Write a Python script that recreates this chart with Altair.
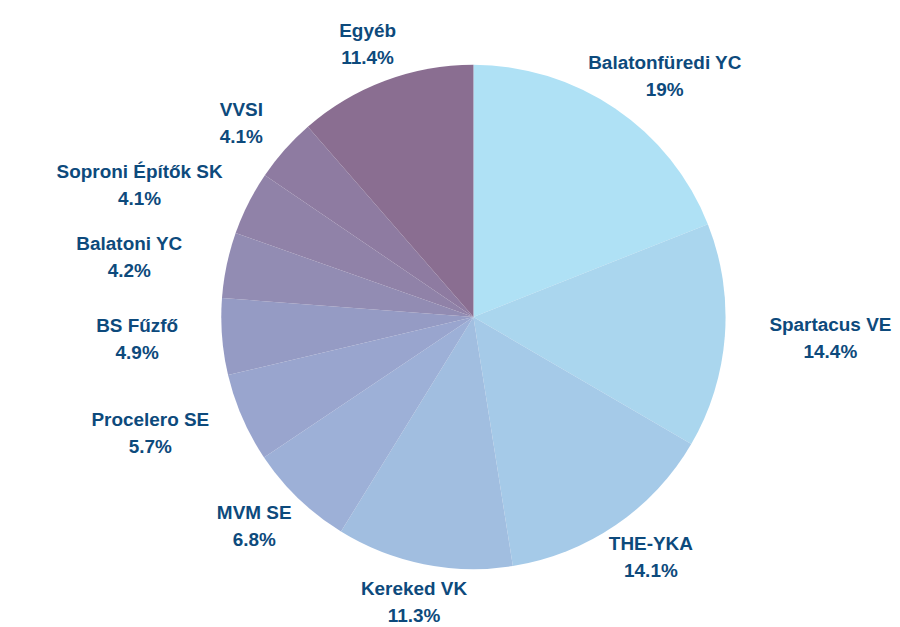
import altair as alt
import pandas as pd
import math

names = ["Balatonfüredi YC", "Spartacus VE", "THE-YKA", "Kereked VK", "MVM SE",
         "Procelero SE", "BS Fűzfő", "Balatoni YC", "Soproni Építők SK", "VVSI", "Egyéb"]
values = [19.0, 14.4, 14.1, 11.3, 6.8, 5.7, 4.9, 4.2, 4.1, 4.1, 11.4]
colors = ["#AFE1F5", "#AAD6EE", "#A5CAE8", "#A1BEE0", "#9DB0D7", "#99A5CE",
          "#959BC4", "#928CB3", "#9082A8", "#8E7BA1", "#8A6E91"]

df = pd.DataFrame({"name": names, "value": values, "idx": list(range(len(names)))})

CX, CY = 467, 309
TWO_PI = 2 * math.pi

base = alt.Chart(df)

pie = base.mark_arc(outerRadius=253).encode(
    theta=alt.Theta("value:Q", stack=True, scale=alt.Scale(domain=[0, 100], range=[0, TWO_PI])),
    order=alt.Order("idx:Q"),
    color=alt.Color("name:N", scale=alt.Scale(domain=names, range=colors), legend=None),
    x=alt.value(CX),
    y=alt.value(CY),
)

labels = base.transform_window(
    cum="sum(value)", sort=[alt.SortField("idx")], frame=[None, 0]
).transform_calculate(
    ang="(datum.cum - datum.value / 2) / 100 * 2 * PI",
).transform_calculate(
    px=f"{CX} + sin(datum.ang) * (292 + (5.2 * length(datum.name) + 5) * abs(sin(datum.ang)))",
    py=f"{CY} - cos(datum.ang) * 292",
    label="datum.name + '\\n' + format(datum.value, '.1~f') + '%'",
).mark_text(
    font="Liberation Sans", fontWeight="bold", fontSize=19, color="#0D4A7C",
    lineBreak="\n", lineHeight=27, align="center", baseline="middle", dy=-13.5,
).encode(
    x=alt.X("px:Q", scale=None, axis=None),
    y=alt.Y("py:Q", scale=None, axis=None),
    text="label:N",
)

chart = alt.layer(pie, labels).properties(
    width=884, height=611, padding=0
).configure(background="white").configure_view(strokeWidth=0)

chart.save("out.html", embed_options={"renderer": "svg", "actions": False})
